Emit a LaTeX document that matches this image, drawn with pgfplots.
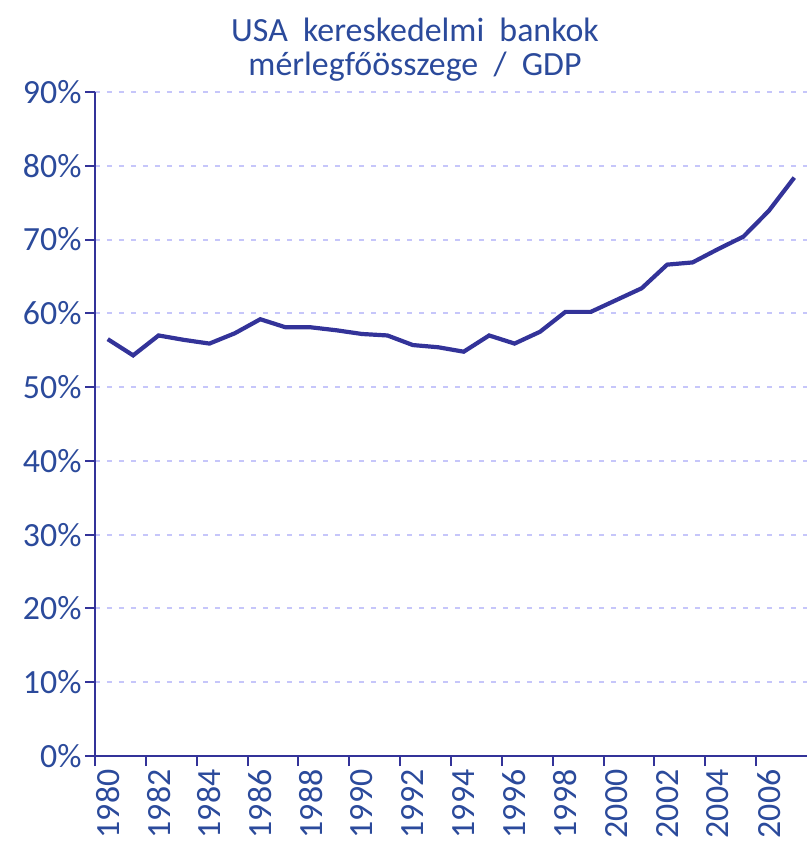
\documentclass[border=0pt]{standalone}
\usepackage{fontspec}
\setmainfont{Carlito}
\usepackage{pgfplots}
\pgfplotsset{compat=1.18}
\definecolor{inglinecol}{HTML}{333399}
\definecolor{ingtext}{HTML}{2B4A9B}
\definecolor{inggrid}{HTML}{C6C6FA}
\newcommand\wsp{\hspace{0.45em}}

\pgfplotstableread{
year ratio
1980 56.5
1981 54.3
1982 57.0
1983 56.4
1984 55.9
1985 57.3
1986 59.2
1987 58.1
1988 58.1
1989 57.7
1990 57.2
1991 57.0
1992 55.7
1993 55.4
1994 54.8
1995 57.0
1996 55.9
1997 57.5
1998 60.2
1999 60.2
2000 61.8
2001 63.4
2002 66.6
2003 66.9
2004 68.7
2005 70.4
2006 73.9
2007 78.4
}\bankdata

\begin{document}
\begin{tikzpicture}
\useasboundingbox (-95bp,-86bp) rectangle (712bp,756bp);
\begin{axis}[
    at={(0,0)}, anchor=south west,
    scale only axis,
    width=712bp, height=664bp,
    xmin=1979.5, xmax=2007.5,
    ymin=0, ymax=90,
    axis x line*=bottom, axis y line*=left,
    axis line style={draw=inglinecol, line width=2bp},
    font=\fontsize{34}{40}\selectfont,
    /pgf/number format/assume math mode=true,
    ticklabel style={text=ingtext},
    tick align=outside,
    major tick length=10bp,
    ytick={0,10,...,90},
    yticklabel={\pgfmathprintnumber{\tick}\%},
    ytick style={draw=inglinecol, line width=2bp},
    xtick={1980,1982,...,2006},
    xticklabel={\pgfmathprintnumber[1000 sep={}]{\tick}},
    xtick style={draw=none},
    x tick label style={rotate=90, anchor=east},
    extra x ticks={1979.5,1981.5,...,2005.5},
    extra x tick labels={},
    extra x tick style={xtick style={draw=inglinecol, line width=2bp}},
    ymajorgrids,
    grid style={draw=inggrid, line width=2bp, dash pattern=on 5bp off 7bp},
    clip=false,
]
\addplot[draw=inglinecol, line width=4.2bp, line join=miter] table[x=year, y=ratio] {\bankdata};
\end{axis}
\node[text=ingtext, align=center, font=\fontsize{34}{35}\selectfont, anchor=base]
  at (320bp,680bp) {USA\wsp kereskedelmi\wsp bankok\\mérlegfőösszege\wsp/\wsp GDP};
\end{tikzpicture}
\end{document}
